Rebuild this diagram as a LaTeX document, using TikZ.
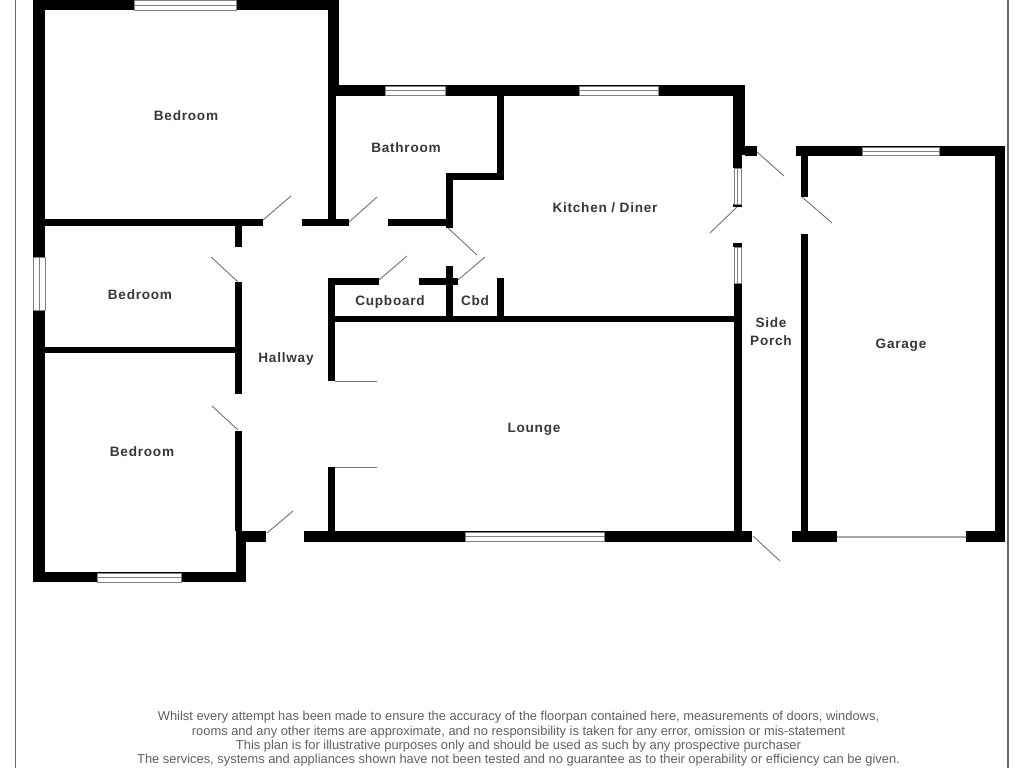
\documentclass[tikz,border=0pt]{standalone}
\usepackage{fontspec}
\setmainfont{Liberation Sans}
\newfontfamily\roomfont[LetterSpace=5.5]{Liberation Sans Bold}
\tikzset{
    wall/.style={fill=black},
    doorleaf/.style={draw=black!55, line width=0.9pt},
    pane/.style={draw=black!50, fill=white, line width=0.8pt},
    frame/.style={draw=black!60},
    room/.style={text=black!78, align=center, inner sep=0pt, text height=10pt, text depth=0pt, font=\roomfont\fontsize{13.6}{17.5}\selectfont},
    notice/.style={text=black!62, align=center, inner sep=0pt, font=\fontsize{12.9}{14.4}\selectfont}
}
\begin{document}
\begin{tikzpicture}[x=1pt,y=-1pt]
    \useasboundingbox (0,0) rectangle (1024,768);
    \fill[white] (0,0) rectangle (1024,768);
    % page edges
    \draw[frame, line width=1pt] (15,0) -- (15,768);
    \draw[frame, line width=2pt] (1007.5,0) -- (1007.5,768);
    % outer walls, left block
    \fill[wall] (33,0) rectangle (339,10);
    \fill[wall] (33,0) rectangle (45,582);
    \fill[wall] (33,572) rectangle (246,582);
    \fill[wall] (328,0) rectangle (339,88);
    \fill[wall] (328,88) rectangle (336,222);
    \fill[wall] (236,531) rectangle (246,582);
    \fill[wall] (246,531) rectangle (266,542);
    % bedrooms
    \fill[wall] (45,219) rectangle (263,226);
    \fill[wall] (302,219) rectangle (349,226);
    \fill[wall] (235,226) rectangle (242,247);
    \fill[wall] (235,282) rectangle (242,394);
    \fill[wall] (45,347) rectangle (236,353);
    \fill[wall] (235,431) rectangle (242,531);
    % bathroom and kitchen
    \fill[wall] (336,85) rectangle (745,96);
    \fill[wall] (497,96) rectangle (504,180);
    \fill[wall] (446,173) rectangle (504,180);
    \fill[wall] (446,173) rectangle (453,228);
    \fill[wall] (388,219) rectangle (453,226);
    \fill[wall] (733,85) rectangle (745,155);
    \fill[wall] (733,155) rectangle (742,168);
    \fill[wall] (745,146) rectangle (757,156);
    \fill[wall] (733,204) rectangle (742,207);
    \fill[wall] (733,243) rectangle (742,247);
    % cupboards
    \fill[wall] (328,278) rectangle (379,285);
    \fill[wall] (419,278) rectangle (458,285);
    \fill[wall] (446,266) rectangle (453,319);
    \fill[wall] (497,278) rectangle (504,319);
    \fill[wall] (328,278) rectangle (335,381);
    \fill[wall] (328,316) rectangle (742,322);
    % lounge
    \fill[wall] (734,283) rectangle (742,531);
    \fill[wall] (328,467) rectangle (335,531);
    \fill[wall] (304,531) rectangle (752,542);
    % garage
    \fill[wall] (796,146) rectangle (1005,156);
    \fill[wall] (995,146) rectangle (1005,542);
    \fill[wall] (801,156) rectangle (808,197);
    \fill[wall] (801,234) rectangle (808,531);
    \fill[wall] (792,531) rectangle (837,542);
    \fill[wall] (966,531) rectangle (1005,542);
    % windows
    \draw[pane] (134,0) rectangle (236,10) (134,5) -- (236,5);
    \draw[pane] (385,86) rectangle (445,95) (385,90.5) -- (445,90.5);
    \draw[pane] (579,86) rectangle (658,95) (579,90.5) -- (658,90.5);
    \draw[pane] (862,147) rectangle (939,155) (862,151) -- (939,151);
    \draw[pane] (465,532) rectangle (604,541) (465,536.5) -- (604,536.5);
    \draw[pane] (97,573) rectangle (181,582) (97,577.5) -- (181,577.5);
    \draw[pane] (33,257) rectangle (45,310) (39,257) -- (39,310);
    \draw[pane] (734,168) rectangle (741,204) (737.5,168) -- (737.5,204);
    \draw[pane] (734,247) rectangle (741,283) (737.5,247) -- (737.5,283);
    \draw[black!35, line width=2pt] (837,537) -- (966,537);
    % door leaves
    \draw[doorleaf] (263,220) -- (291,196);
    \draw[doorleaf] (238,282) -- (211,257);
    \draw[doorleaf] (349,222) -- (377,197);
    \draw[doorleaf] (448,228) -- (477,255);
    \draw[doorleaf] (379,280) -- (407,256);
    \draw[doorleaf] (458,280) -- (485,257);
    \draw[doorleaf] (757,152) -- (784,176);
    \draw[doorleaf] (737,207) -- (710,233);
    \draw[doorleaf] (802,197) -- (832,223);
    \draw[doorleaf] (238,430) -- (212,406);
    \draw[doorleaf] (267,533) -- (293,511);
    \draw[doorleaf] (753,536) -- (780,561);
    \draw[doorleaf] (335,381) -- (377,381);
    \draw[doorleaf] (335,467) -- (377,467);
    % room names
    \node[room] (bedroomtop) at (186,115) {Bedroom};
    \node[room] (bedroommid) at (140,294) {Bedroom};
    \node[room] (bedroomlow) at (142,451) {Bedroom};
    \node[room] (bathroom) at (406,147) {Bathroom};
    \node[room] (kitchen) at (605,207) {Kitchen / Diner};
    \node[room] (hallway) at (286,357) {Hallway};
    \node[room] (cupboard) at (390,300) {Cupboard};
    \node[room] (cbd) at (475,300) {Cbd};
    \node[room] (porch) at (771,340) {Side\\Porch};
    \node[room] (garage) at (901,343) {Garage};
    \node[room] (lounge) at (534,427) {Lounge};
    % small print
    \node[notice] (disclaimer) at (518.5,739) {Whilst every attempt has been made to ensure the accuracy of the floorpan contained here, measurements of doors, windows,\\
        rooms and any other items are approximate, and no responsibility is taken for any error, omission or mis-statement\\
        This plan is for illustrative purposes only and should be used as such by any prospective purchaser\\
        The services, systems and appliances shown have not been tested and no guarantee as to their operability or efficiency can be given.};
\end{tikzpicture}
\end{document}
